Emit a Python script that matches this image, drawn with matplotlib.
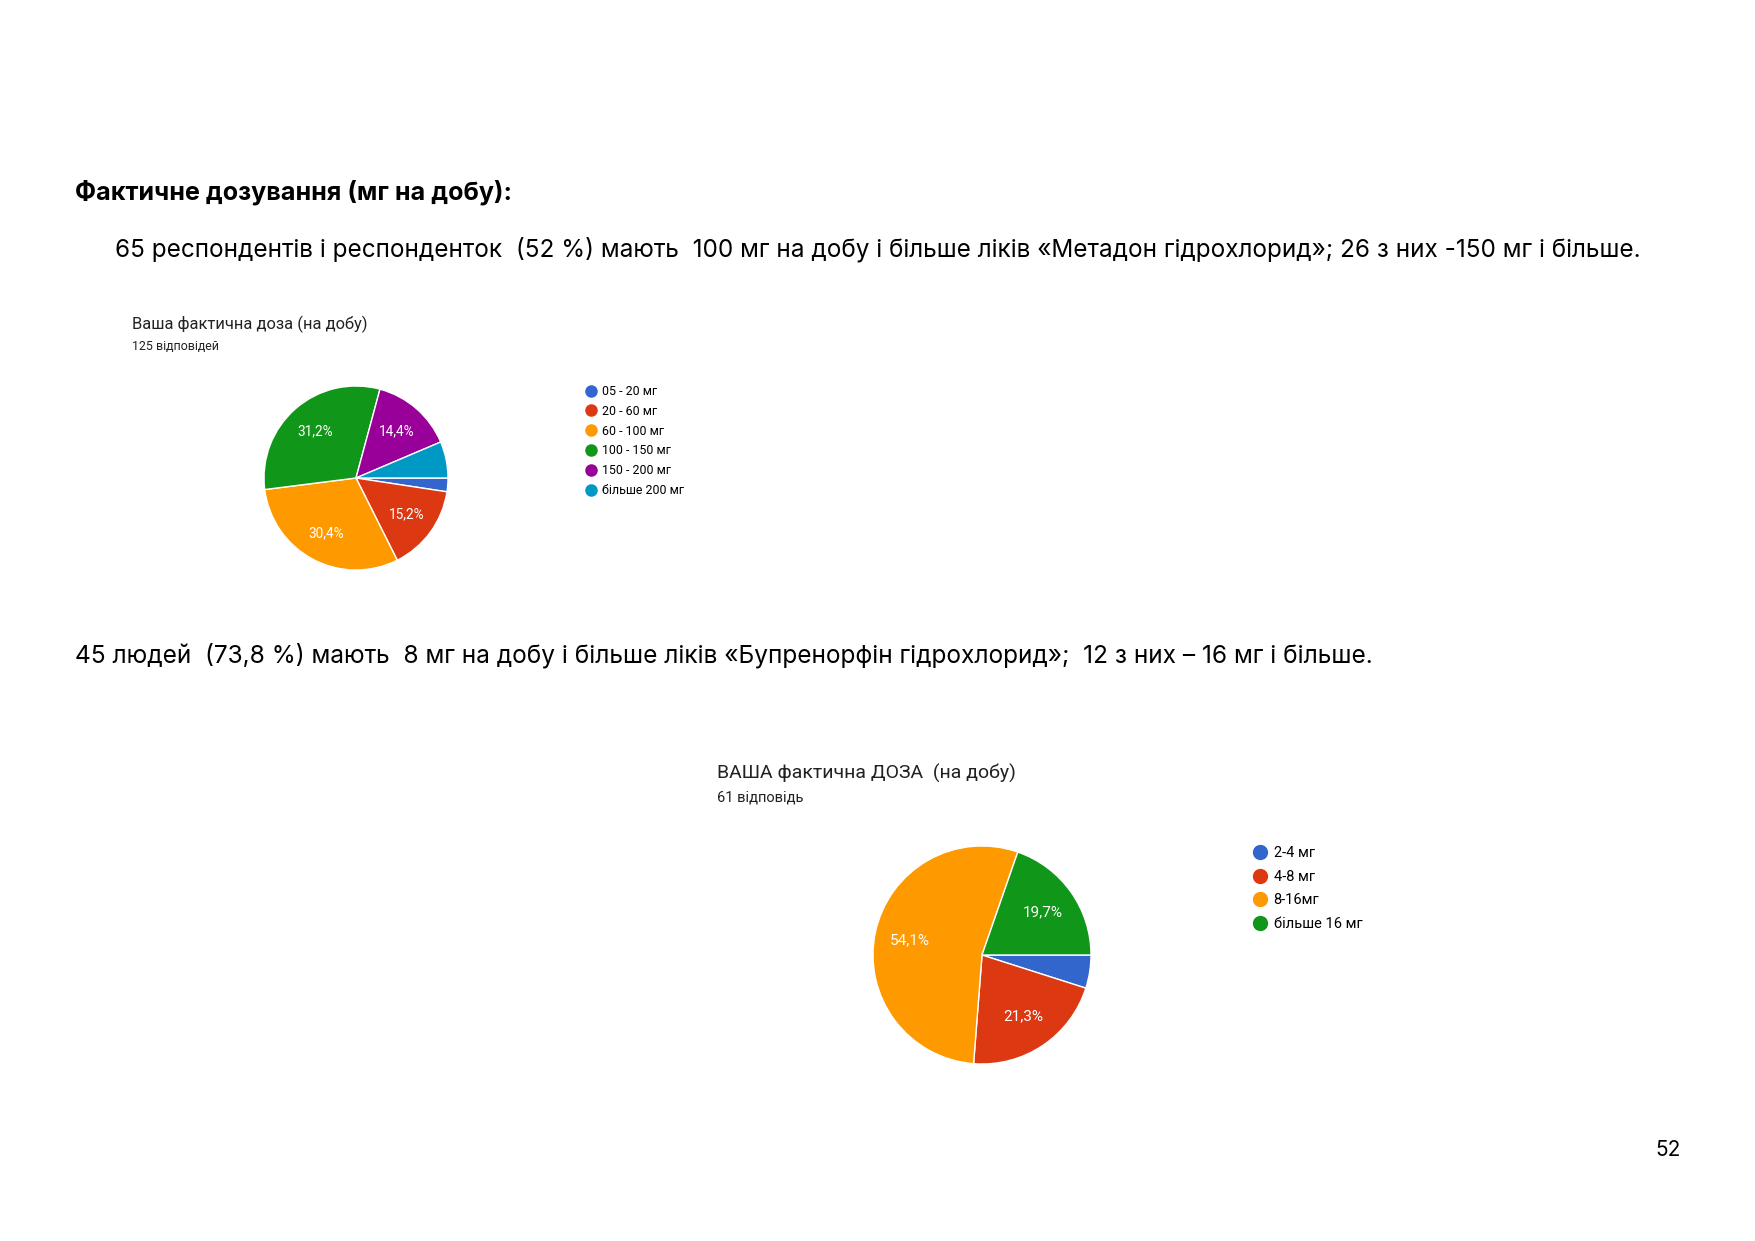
import matplotlib
matplotlib.use("Agg")
import matplotlib.pyplot as plt
from matplotlib.lines import Line2D

W, H = 1755, 1241                                                   # page size in px

# chart 1 - methadone
labels1 = ["05 - 20 мг", "20 - 60 мг", "60 - 100 мг", "100 - 150 мг", "150 - 200 мг", "більше 200 мг"]
counts1 = [3, 19, 38, 39, 18, 8]
colors1 = ["#3366cc", "#dc3912", "#ff9900", "#109618", "#990099", "#0099c6"]

# chart 2 - buprenorphine
labels2 = ["2-4 мг", "4-8 мг", "8-16мг", "більше 16 мг"]
counts2 = [3, 13, 33, 12]
colors2 = ["#3366cc", "#dc3912", "#ff9900", "#109618"]

heading = "Фактичне дозування (мг на добу):"
line1 = "65 респондентів і респонденток  (52 %) мають  100 мг на добу і більше ліків «Метадон гідрохлорид»; 26 з них -150 мг і більше."
line2 = "45 людей  (73,8 %) мають  8 мг на добу і більше ліків «Бупренорфін гідрохлорид»;  12 з них – 16 мг і більше."

fig = plt.figure(figsize=(W / 100, H / 100), dpi=100)
fig.patch.set_facecolor("white")

def fx(x):                                                           # px -> figure fraction
    return x / W

def fy(y):
    return 1 - y / H

page_font = ["Inter", "DejaVu Sans"]
chart_font = ["Roboto", "DejaVu Sans"]

fig.text(fx(75), fy(192), heading, fontsize=18.1, fontweight="bold", family=page_font, va="center")
fig.text(fx(115), fy(249), line1, fontsize=17.5, family=page_font, va="center")
fig.text(fx(75), fy(655), line2, fontsize=17.6, family=page_font, va="center")
fig.text(fx(1668), fy(1150), "52", fontsize=15, family=page_font, va="center", ha="center")


def pct_fmt(p):
    if p < 10:
        return ""
    return ("%.1f%%" % p).replace(".", ",")


def draw_pie(cx, cy, r, counts, colors, fsize):
    ax = fig.add_axes([fx(cx - r), fy(cy + r), 2 * r / W, 2 * r / H])
    ax.pie(counts, colors=colors, startangle=0, counterclock=False, radius=1,
           autopct=pct_fmt, pctdistance=0.68,
           wedgeprops=dict(edgecolor="white", linewidth=1),
           textprops=dict(color="white", fontsize=fsize, family=chart_font))
    ax.set_xlim(-1, 1)
    ax.set_ylim(-1, 1)
    ax.axis("off")
    return ax


ax1 = draw_pie(356, 478, 92, counts1, colors1, 9.8)
fig.text(fx(132), fy(324), "Ваша фактична доза (на добу)", fontsize=11.9, family=chart_font, color="#222222", va="center")
fig.text(fx(132), fy(346), "125 відповідей", fontsize=8.9, family=chart_font, color="#222222", va="center")

h1 = [Line2D([], [], marker="o", linestyle="", markersize=8, markerfacecolor=c, markeredgecolor=c) for c in colors1]
fig.legend(h1, labels1, loc="upper left", bbox_to_anchor=(fx(586), fy(385)), frameon=False,
           prop=dict(family=chart_font, size=8.9), handlelength=0.8, handletextpad=0.5,
           labelspacing=0.55, borderpad=0, borderaxespad=0)

ax2 = draw_pie(982, 955, 109, counts2, colors2, 11)
fig.text(fx(717), fy(773), "ВАША фактична ДОЗА  (на добу)", fontsize=14, family=chart_font, color="#222222", va="center")
fig.text(fx(717), fy(798), "61 відповідь", fontsize=10.5, family=chart_font, color="#222222", va="center")

h2 = [Line2D([], [], marker="o", linestyle="", markersize=10, markerfacecolor=c, markeredgecolor=c) for c in colors2]
fig.legend(h2, labels2, loc="upper left", bbox_to_anchor=(fx(1254), fy(846)), frameon=False,
           prop=dict(family=chart_font, size=10.5), handlelength=0.8, handletextpad=0.55,
           labelspacing=0.66, borderpad=0, borderaxespad=0)

fig.savefig("out.png", dpi=100, facecolor="white")
